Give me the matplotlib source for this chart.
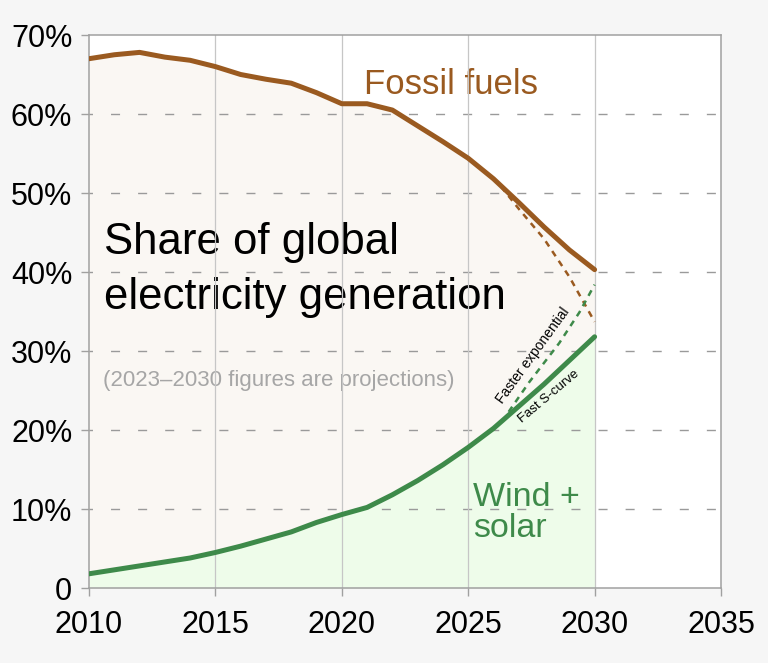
import matplotlib.pyplot as plt
import numpy as np

plt.rcParams['font.family'] = ['Liberation Sans', 'DejaVu Sans']

years = [2010, 2011, 2012, 2013, 2014, 2015, 2016, 2017, 2018, 2019, 2020,
         2021, 2022, 2023, 2024, 2025, 2026, 2027, 2028, 2029, 2030]
fossil = [67.0, 67.5, 67.8, 67.2, 66.8, 66.0, 65.0, 64.4, 63.9, 62.7, 61.3,
          61.3, 60.5, 58.5, 56.5, 54.4, 51.8, 48.8, 45.7, 42.8, 40.3]
wind_solar = [1.8, 2.3, 2.8, 3.3, 3.8, 4.5, 5.3, 6.2, 7.1, 8.3, 9.3,
              10.2, 11.8, 13.6, 15.6, 17.8, 20.2, 23.0, 25.8, 28.8, 31.8]

# faster-exponential scenario (dashed)
fossil_fast_years = [2026.3, 2027, 2028, 2029, 2030]
fossil_fast = [50.8, 48.0, 44.2, 39.4, 33.7]
ws_fast_years = [2026.6, 2027.4, 2028.6, 2029.4, 2030]
ws_fast = [22.3, 26.0, 31.0, 34.9, 38.4]

brown = '#9a5a20'
green = '#3e8a4a'

fig = plt.figure(figsize=(7.68, 6.63), dpi=100, facecolor='#f6f6f6')
ax = fig.add_axes([0.1159, 0.1131, 0.8229, 0.8341])
ax.set_facecolor('white')

ax.fill_between(years, 0, fossil, color='#faf7f3', lw=0, zorder=0.5)
ax.fill_between(years, 0, wind_solar, color='#eefcea', lw=0, zorder=0.6)

ax.plot(years, fossil, color=brown, lw=3.6, solid_capstyle='round',
        solid_joinstyle='round', zorder=4)
ax.plot(years, wind_solar, color=green, lw=3.6, solid_capstyle='round',
        solid_joinstyle='round', zorder=4)
ax.plot(fossil_fast_years, fossil_fast, color=brown, lw=1.8, ls=(0, (2.5, 2.2)), zorder=3)
ax.plot(ws_fast_years, ws_fast, color=green, lw=1.8, ls=(0, (2.5, 2.2)), zorder=3)

ax.set_xlim(2010, 2035)
ax.set_ylim(0, 70)
ax.set_xticks(range(2010, 2036, 5))
ax.set_yticks(range(0, 71, 10))
ax.set_yticklabels(['0'] + ['%d%%' % v for v in range(10, 71, 10)])

for v in range(10, 70, 10):
    ax.axhline(v, color='#9a9a9a', lw=1, ls=(4, (6.5, 13)), zorder=2)
for x in range(2015, 2031, 5):
    ax.axvline(x, color='#c6c6c6', lw=0.9, zorder=2)

for s in ax.spines.values():
    s.set_color('#a0a0a0')
    s.set_linewidth(1.1)
ax.tick_params(axis='both', colors='#a0a0a0', labelcolor='black',
               labelsize=22, length=6, width=1)
ax.tick_params(axis='x', pad=10)
ax.tick_params(axis='y', pad=6)

ax.text(2024.3, 62.5, 'Fossil fuels', color=brown, fontsize=25,
        ha='center', va='baseline', zorder=1)
ax.text(2010.6, 35.3, 'Share of global\nelectricity generation', color='black',
        fontsize=31.5, ha='left', va='baseline', linespacing=1.45, zorder=1)
ax.text(2010.55, 25.6, '(2023\u20132030 figures are projections)', color='#a6a6a6',
        fontsize=16, ha='left', va='baseline', zorder=1)
ax.text(2025.2, 6.5, 'Wind +\nsolar', color=green, fontsize=24.5,
        ha='left', va='baseline', linespacing=1.0, zorder=1)
ax.text(2027.55, 29.4, 'Faster exponential', fontsize=10, rotation=54,
        ha='center', va='center', rotation_mode='anchor', zorder=1)
ax.text(2028.2, 24.2, 'Fast S-curve', fontsize=9.5, rotation=40,
        ha='center', va='center', rotation_mode='anchor', zorder=1)

fig.savefig('out.png', dpi=100, facecolor=fig.get_facecolor())
